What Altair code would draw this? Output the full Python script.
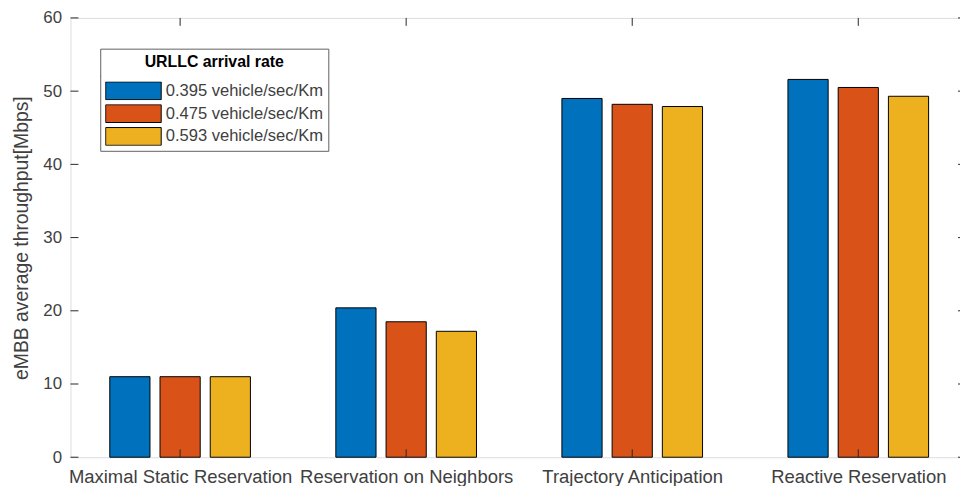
import json
import altair as alt
import pandas as pd

categories = ["Maximal Static Reservation", "Reservation on Neighbors",
              "Trajectory Anticipation", "Reactive Reservation"]
series = ["0.395 vehicle/sec/Km", "0.475 vehicle/sec/Km", "0.593 vehicle/sec/Km"]
values_0395 = [11.0, 20.4, 49.0, 51.6]
values_0475 = [11.0, 18.5, 48.2, 50.5]
values_0593 = [11.0, 17.2, 47.9, 49.3]
colors = ["#0072BD", "#D95319", "#EDB120"]
y_ticks = [0, 10, 20, 30, 40, 50, 60]

rows = []
for si, (s, vals) in enumerate(zip(series, [values_0395, values_0475, values_0593])):
    for ci, (c, v) in enumerate(zip(categories, vals)):
        rows.append({"category": c, "cat_idx": ci + 1, "series": s,
                     "ser_idx": si, "value": v})
df = pd.DataFrame(rows)

W_VIEW = 897
H = 443
TEXT = "#404040"
EDGE = "#808080"
GROUP_SPACING = 0.2222   # MATLAB grouped-bar layout for 3 series
HALF_BAR = 0.0889

label_expr = json.dumps(categories) + "[datum.value - 1]"
xscale = alt.Scale(domain=[0.515, 4.45], nice=False, zero=False, padding=0)
yscale = alt.Scale(domain=[0, 60], nice=False, padding=0)

bars = alt.Chart(df).transform_calculate(
    xc=f"datum.cat_idx + (datum.ser_idx - 1) * {GROUP_SPACING}"
).transform_calculate(
    x1=f"datum.xc - {HALF_BAR}", x2=f"datum.xc + {HALF_BAR}"
).mark_bar(stroke="black", strokeWidth=1).encode(
    x=alt.X("x1:Q", scale=xscale,
            axis=alt.Axis(title=None, values=[1, 2, 3, 4], labelExpr=label_expr,
                          labelAngle=0, ticks=False, domain=False, grid=False,
                          labelFontSize=18.6, labelColor=TEXT, labelPadding=10,
                          labelLimit=0, labelFlush=False, labelOverlap=False,
                          labelFont="Liberation Sans")),
    x2="x2:Q",
    y=alt.Y("value:Q", scale=yscale,
            axis=alt.Axis(title="eMBB average throughput[Mbps]", values=y_ticks,
                          ticks=False, domain=False, grid=False,
                          labelFontSize=17, labelColor=TEXT, labelPadding=9,
                          titleFontSize=19.5, titleColor=TEXT, titleFontWeight="normal",
                          titlePadding=11, labelFont="Liberation Sans",
                          titleFont="Liberation Sans")),
    y2=alt.datum(0),
    color=alt.Color("series:N", sort=series,
                    scale=alt.Scale(domain=series, range=colors),
                    legend=alt.Legend(
                        title="URLLC arrival rate", orient="none",
                        legendX=30, legendY=31,
                        titleFontSize=16, titleFontWeight="bold", titleColor="black",
                        titleFont="Liberation Sans",
                        titleAnchor="middle", titleAlign="center", titlePadding=12,
                        labelFontSize=16.7, labelColor=TEXT, labelFont="Liberation Sans",
                        labelOffset=4, rowPadding=4, clipHeight=19,
                        symbolType="M-1,-0.32H1V0.32H-1Z", symbolSize=3136,
                        symbolStrokeColor="black", symbolStrokeWidth=1,
                        symbolOpacity=1,
                        fillColor="white", strokeColor="#606060", padding=5)),
)

ydf = pd.DataFrame({"t": y_ticks})
xdf = pd.DataFrame({"cat_idx": list(range(1, len(categories) + 1))})

yticks_left = alt.Chart(ydf).mark_rule(color="#262626", strokeWidth=1).encode(
    y=alt.Y("t:Q", scale=yscale), x=alt.value(0), x2=alt.value(8))
yticks_right = alt.Chart(ydf).mark_rule(color="#262626", strokeWidth=1).encode(
    y=alt.Y("t:Q", scale=yscale), x=alt.value(895), x2=alt.value(905))
xticks_bottom = alt.Chart(xdf).mark_rule(color="#262626", strokeWidth=1).encode(
    x=alt.X("cat_idx:Q", scale=xscale), y=alt.value(H), y2=alt.value(H - 8))
xticks_top = alt.Chart(xdf).mark_rule(color="#262626", strokeWidth=1).encode(
    x=alt.X("cat_idx:Q", scale=xscale), y=alt.value(0), y2=alt.value(8))

sep = alt.Chart(xdf).mark_rule(color="#606060", strokeWidth=1).encode(
    x=alt.value(30), x2=alt.value(259), y=alt.value(59))

chart = alt.layer(bars, yticks_left, yticks_right, xticks_bottom, xticks_top, sep).properties(
    width=W_VIEW, height=H,
    autosize=alt.AutoSizeParams(type="none"),
    padding={"left": 63, "top": 8, "right": 0, "bottom": 27},
).configure_view(stroke=EDGE, strokeWidth=1).configure(background="white")

chart.save("out.html", embed_options={"renderer": "svg", "actions": False})
